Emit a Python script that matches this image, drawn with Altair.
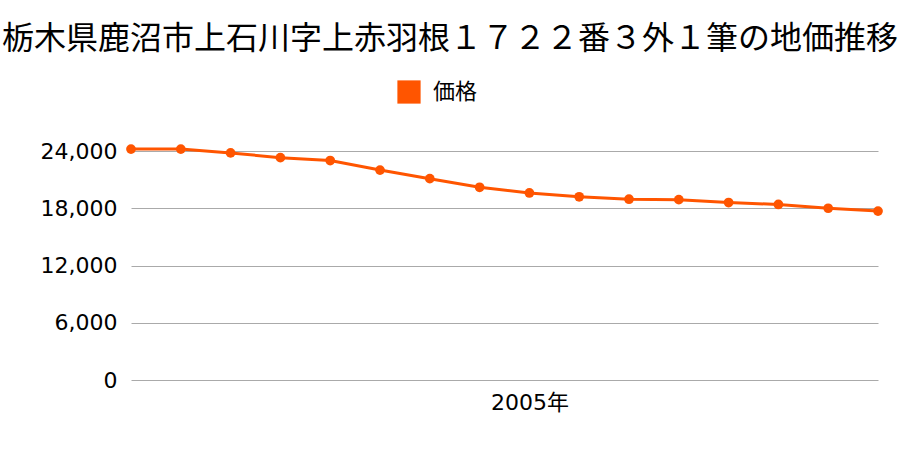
import altair as alt
import pandas as pd

years = list(range(1997, 2013))
prices = [24200, 24200, 23800, 23300, 23000, 22000, 21100, 20200,
          19600, 19200, 18950, 18900, 18600, 18400, 18000, 17700]
series = ["価格"] * len(years)
y_ticks = [0, 6000, 12000, 18000, 24000]
x_ticks = [2005]

df = pd.DataFrame({"year": years, "price": prices, "series": series})

FONT = "Noto Sans CJK JP"
NUMFONT = "DejaVu Sans, Noto Sans CJK JP"
ORANGE = "#ff5500"

x = alt.X("year:Q", scale=alt.Scale(domain=[1997, 2012], nice=False, zero=False),
          axis=alt.Axis(values=x_ticks, labelExpr="datum.value + '年'", grid=False,
                        domain=False, ticks=False, labelFontSize=22, labelPadding=12,
                        labelColor="#000", labelFont=NUMFONT, title=None))
y = alt.Y("price:Q", scale=alt.Scale(domain=[0, 24000], nice=False),
          axis=alt.Axis(values=y_ticks, format=",d", grid=True, gridColor="#aaaaaa",
                        domain=False, ticks=False, labelFontSize=22, labelPadding=14,
                        labelColor="#000", labelFont=NUMFONT, title=None))

base = alt.Chart(df)
line = base.mark_line(color=ORANGE, strokeWidth=3).encode(x=x, y=y)
pts = base.mark_point(filled=True, size=95, opacity=1).encode(
    x=x, y=y,
    color=alt.Color("series:N", scale=alt.Scale(range=[ORANGE]),
                    legend=alt.Legend(title=None, orient="none", legendX=266, legendY=-71,
                                      symbolType="square", symbolSize=540,
                                      symbolStrokeWidth=0, labelFontSize=22,
                                      labelFont=FONT, labelOffset=12, padding=0,
                                      labelColor="#000")))

chart = alt.layer(line, pts).properties(
    width=747, height=229,
    title=alt.TitleParams("栃木県鹿沼市上石川字上赤羽根１７２２番３外１筆の地価推移",
                          fontSize=32, font=FONT, fontWeight="normal", color="#000",
                          anchor="middle", dx=-54.5, offset=24),
    padding={"left": 131, "top": 151, "right": 22, "bottom": 70},
    autosize=alt.AutoSizeParams(type="none"),
).configure(background="white").configure_view(stroke=None)

chart.save("out.html", embed_options={"renderer": "svg", "actions": False})
